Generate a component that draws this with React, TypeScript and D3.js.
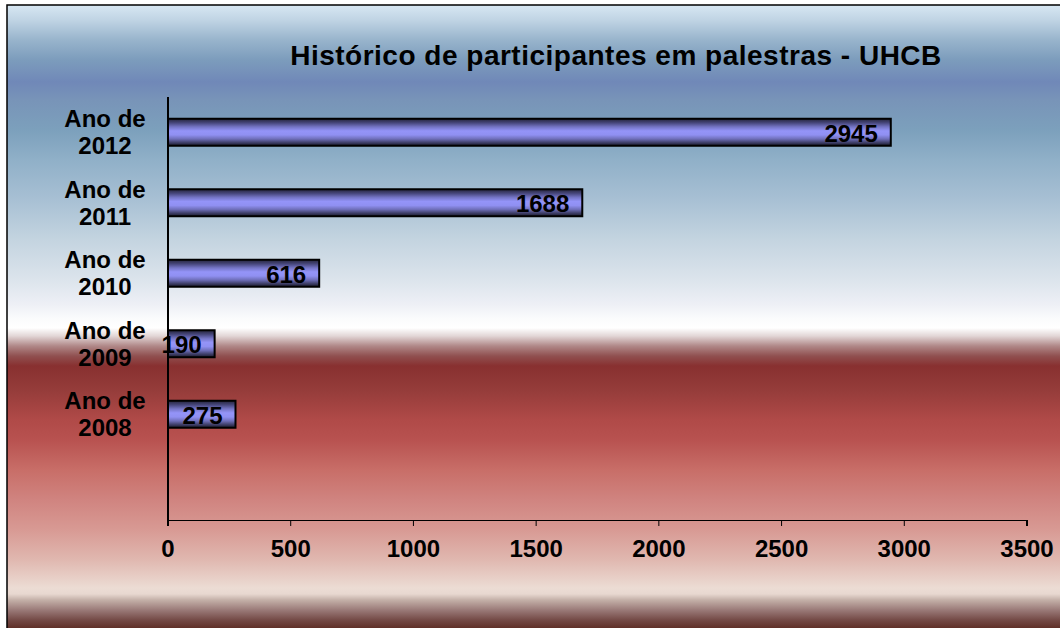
import React from "react";
import * as d3 from "d3";

const title = "Histórico de participantes em palestras - UHCB";
const categoryPrefix = "Ano de";
const years = ["2012", "2011", "2010", "2009", "2008"];
const participants = [2945, 1688, 616, 190, 275];
const xTicks = [0, 500, 1000, 1500, 2000, 2500, 3000, 3500];

const W = 1060;
const H = 628;
const FONT = "'Liberation Sans', Arial, Helvetica, sans-serif";

const bgStops: [number, string][] = [
  [6, "#d6e6f2"], [20, "#c0d4e4"], [40, "#98b4cc"], [60, "#7c9cbc"], [82, "#7088b8"],
  [100, "#7894b8"], [130, "#7ca0bc"], [160, "#90b0c8"], [200, "#a8c0d4"], [240, "#c4d4e0"],
  [280, "#dce4ec"], [305, "#eef0f6"], [318, "#fafbfc"], [328, "#ffffff"], [336, "#e2d6d6"],
  [346, "#b08888"], [356, "#905050"], [366, "#883030"], [390, "#953c3a"], [420, "#b04a48"],
  [440, "#b85250"], [470, "#c86e68"], [500, "#d08480"], [530, "#d89a94"], [560, "#e0b8b0"],
  [588, "#ecdcd4"], [594, "#e8d8d0"], [600, "#c4b0a8"], [610, "#9a7a78"], [620, "#744a46"],
  [628, "#603028"],
];

const barStops: [number, string][] = [
  [0, "#24243a"], [0.15, "#46467a"], [0.3, "#7474c4"], [0.45, "#9494f8"], [0.6, "#9090f2"],
  [0.75, "#6e6eb8"], [0.88, "#40406a"], [1, "#1a1a2a"],
];

export default function App() {
  const plotLeft = 168;
  const plotRight = 1027;
  const plotTop = 97;
  const plotBottom = 520;

  const x = d3.scaleLinear().domain([0, 3500]).range([plotLeft, plotRight]);
  const y = d3
    .scaleBand<string>()
    .domain([...years, ""])
    .range([plotTop, plotBottom])
    .paddingInner(0)
    .paddingOuter(0);

  const barH = 27;

  return (
    <svg
      width={W}
      height={H}
      style={{ position: "absolute", left: 0, top: 0, display: "block" }}
      fontFamily={FONT}
    >
      <defs>
        <linearGradient id="bg" gradientUnits="userSpaceOnUse" x1={0} y1={0} x2={0} y2={H}>
          {bgStops.map(([p, c], i) => (
            <stop key={i} offset={p / H} stopColor={c} />
          ))}
        </linearGradient>
        <linearGradient id="bar" x1={0} y1={0} x2={0} y2={1}>
          {barStops.map(([p, c], i) => (
            <stop key={i} offset={p} stopColor={c} />
          ))}
        </linearGradient>
      </defs>
      <rect x={0} y={0} width={W} height={H} fill="#ffffff" />
      <rect x={7} y={5} width={W + 10} height={H + 10} fill="url(#bg)" stroke="#000" strokeWidth={1.5} />

      <text
        x={616}
        y={65}
        textAnchor="middle"
        fontSize={28}
        fontWeight="bold"
        letterSpacing={0.5}
        fill="#000"
      >
        {title}
      </text>

      {/* category labels */}
      {years.map((yr) => {
        const cy = (y(yr) as number) + y.bandwidth() / 2;
        return (
          <text key={yr} textAnchor="middle" fontSize={24} fontWeight="bold" fill="#000">
            <tspan x={105} y={cy - 5}>{categoryPrefix}</tspan>
            <tspan x={105} y={cy + 22}>{yr}</tspan>
          </text>
        );
      })}

      {/* bars */}
      {years.map((yr, i) => {
        const cy = (y(yr) as number) + y.bandwidth() / 2;
        const v = participants[i];
        return (
          <g key={yr}>
            <rect
              x={x(0)}
              y={cy - barH / 2}
              width={x(v) - x(0)}
              height={barH}
              fill="url(#bar)"
              stroke="#000"
              strokeWidth={2}
            />
          </g>
        );
      })}

      {/* axes */}
      <line x1={plotLeft} x2={plotLeft} y1={plotTop} y2={plotBottom} stroke="#000" strokeWidth={2} />
      <line x1={plotLeft} x2={plotRight} y1={plotBottom + 0.5} y2={plotBottom + 0.5} stroke="#000" strokeWidth={1} />
      {xTicks.map((t) => (
        <g key={t}>
          <line x1={x(t)} x2={x(t)} y1={plotBottom} y2={plotBottom + 6} stroke="#000" strokeWidth={t === 0 || t === 3500 ? 2 : 1} />
          <text x={x(t)} y={557} textAnchor="middle" fontSize={24} fontWeight="bold" fill="#000">
            {t}
          </text>
        </g>
      ))}

      {/* value labels */}
      {years.map((yr, i) => {
        const cy = (y(yr) as number) + y.bandwidth() / 2;
        const v = participants[i];
        return (
          <text key={yr} x={x(v) - 13} y={cy + 9.5} textAnchor="end" fontSize={24} fontWeight="bold" fill="#000">
            {v}
          </text>
        );
      })}
    </svg>
  );
}
